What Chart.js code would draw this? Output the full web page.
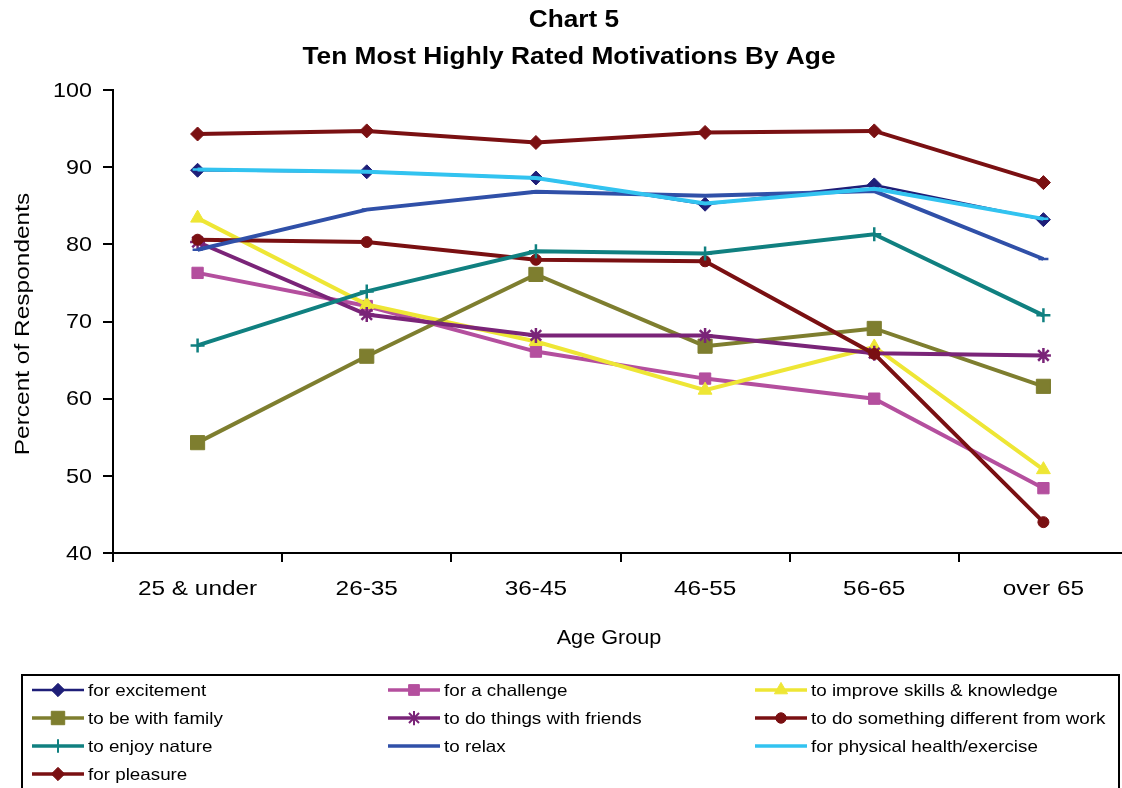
<!DOCTYPE html>
<html>
<head>
<meta charset="utf-8">
<script src="https://cdn.jsdelivr.net/npm/chart.js@4.4.0/dist/chart.umd.min.js"></script>
<style>
  html, body { margin: 0; padding: 0; background: #fff; overflow: hidden; }
  #wrap { position: relative; width: 1139px; height: 788px; }
</style>
</head>
<body>
<div id="wrap"><canvas id="c" width="1139" height="788"></canvas></div>
<script>
// Age groups and y-axis ticks
const ageGroups = ['25 & under', '26-35', '36-45', '46-55', '56-65', 'over 65'];
const yTicks = [40, 50, 60, 70, 80, 90, 100];

// Percent of respondents rating each motivation highly, per age group
const forExcitement      = [89.6, 89.4, 88.6, 85.2, 87.7, 83.2];
const forAChallenge      = [76.3, 72.0, 66.1, 62.6, 60.0, 48.4];
const toImproveSkills    = [83.4, 72.2, 67.4, 61.1, 66.7, 50.8];
const toBeWithFamily     = [54.3, 65.5, 76.1, 66.8, 69.1, 61.6];
const toDoWithFriends    = [80.3, 70.9, 68.2, 68.2, 65.9, 65.6];
const somethingDifferent = [80.6, 80.3, 78.0, 77.8, 65.8, 44.0];
const toEnjoyNature      = [66.9, 73.9, 79.1, 78.8, 81.3, 70.8];
const toRelax            = [79.3, 84.5, 86.8, 86.3, 86.9, 78.1];
const physicalHealth     = [89.7, 89.4, 88.6, 85.3, 87.2, 83.3];
const forPleasure        = [94.3, 94.7, 93.2, 94.5, 94.7, 88.0];

const FONT = '"Liberation Sans", Arial, sans-serif';

const seriesDefs = [
  { label: 'for excitement', data: forExcitement, color: '#1E1E78', style: 'rectRot', r: 7, w: 2.5 },
  { label: 'for a challenge', data: forAChallenge, color: '#B44F9E', style: 'rect', r: 8, w: 4 },
  { label: 'to improve skills & knowledge', data: toImproveSkills, color: '#EEE635', style: 'triangle', r: 8, w: 4 },
  { label: 'to be with family', data: toBeWithFamily, color: '#7E7E2F', style: 'rect', r: 10, w: 4 },
  { label: 'to do things with friends', data: toDoWithFriends, color: '#7A2478', style: 'star', r: 7.5, w: 4 },
  { label: 'to do something different from work', data: somethingDifferent, color: '#7A1012', style: 'circle', r: 5.5, w: 4 },
  { label: 'to enjoy nature', data: toEnjoyNature, color: '#108080', style: 'cross', r: 7, w: 4 },
  { label: 'to relax', data: toRelax, color: '#3050A8', style: 'line', r: 5, w: 4 },
  { label: 'for physical health/exercise', data: physicalHealth, color: '#32C3F0', style: 'line', r: 5, w: 4 },
  { label: 'for pleasure', data: forPleasure, color: '#7A1012', style: 'rectRot', r: 7, w: 4 }
];

const strokedStyles = ['star', 'cross', 'line'];

const datasets = seriesDefs.map((s, i) => ({
  label: s.label,
  data: s.data,
  borderColor: s.color,
  backgroundColor: s.color,
  borderWidth: s.w,
  pointStyle: s.style,
  pointRadius: s.r,
  pointHoverRadius: s.r,
  pointBorderWidth: strokedStyles.includes(s.style) ? 2.5 : 1,
  pointBackgroundColor: s.color,
  pointBorderColor: s.color,
  tension: 0,
  fill: false,
  order: seriesDefs.length - i   // later series are painted on top
}));

function drawMarker(ctx, style, r, x, y, bw) {
  if (Chart.helpers && Chart.helpers.drawPoint) {
    Chart.helpers.drawPoint(ctx, { pointStyle: style, radius: r, rotation: 0, borderWidth: bw }, x, y);
    return;
  }
  ctx.beginPath();
  ctx.arc(x, y, r, 0, Math.PI * 2);
  ctx.fill();
}

// text widened along its own baseline
function wideText(ctx, txt, x, y, sx, align, angle) {
  ctx.save();
  ctx.translate(x, y);
  if (angle) ctx.rotate(angle);
  ctx.scale(sx, 1);
  ctx.textAlign = align;
  ctx.fillText(txt, 0, 0);
  ctx.restore();
}

// Titles, tick labels, axis titles and the boxed legend
const decorations = {
  id: 'decorations',
  afterDraw(chart) {
    const ctx = chart.ctx;
    ctx.save();
    ctx.fillStyle = '#000';
    ctx.textBaseline = 'middle';

    ctx.font = 'bold 23px ' + FONT;
    wideText(ctx, 'Chart 5', 574, 21, 1.14, 'center');
    wideText(ctx, 'Ten Most Highly Rated Motivations By Age', 569, 58, 1.144, 'center');

    // category labels
    const xs = chart.scales.x;
    ctx.font = '21px ' + FONT;
    ageGroups.forEach((lab, i) => {
      wideText(ctx, lab, xs.getPixelForTick(i), 589, 1.16, 'center');
    });
    // value labels
    const ys = chart.scales.y;
    yTicks.forEach(v => {
      wideText(ctx, String(v), 92, ys.getPixelForValue(v) + 1, 1.11, 'right');
    });

    wideText(ctx, 'Age Group', 609, 638, 1.03, 'center');
    wideText(ctx, 'Percent of Respondents', 23, 324, 1.165, 'center', -Math.PI / 2);

    // legend box
    ctx.lineWidth = 2;
    ctx.strokeStyle = '#000';
    ctx.strokeRect(22, 675, 1097, 200);

    const colX = [32, 388, 755];
    ctx.font = '16.5px ' + FONT;
    seriesDefs.forEach((s, i) => {
      const row = Math.floor(i / 3), col = i % 3;
      const x0 = colX[col], y = 690 + row * 28;
      ctx.strokeStyle = s.color;
      ctx.fillStyle = s.color;
      ctx.lineWidth = Math.min(s.w, 3.5);
      ctx.beginPath();
      ctx.moveTo(x0, y);
      ctx.lineTo(x0 + 52, y);
      ctx.stroke();
      ctx.lineWidth = strokedStyles.includes(s.style) ? 2 : 1;
      drawMarker(ctx, s.style, s.r * 0.95, x0 + 26, y, ctx.lineWidth);
      ctx.fillStyle = '#000';
      wideText(ctx, s.label, x0 + 56, y + 1, 1.14, 'left');
    });
    ctx.restore();
  }
};

new Chart(document.getElementById('c'), {
  type: 'line',
  data: { labels: ageGroups, datasets },
  plugins: [decorations],
  options: {
    responsive: false,
    animation: false,
    events: [],
    layout: { padding: { top: 90, right: 2, bottom: 125, left: 0 } },
    plugins: {
      legend: { display: false },
      title: { display: false },
      tooltip: { enabled: false }
    },
    scales: {
      x: {
        type: 'category',
        offset: true,
        grid: { display: true, drawOnChartArea: false, drawTicks: true, tickLength: 9, color: '#000', lineWidth: 2, offset: true },
        border: { display: true, color: '#000', width: 2 },
        ticks: { color: 'rgba(0,0,0,0)', font: { size: 21, family: FONT }, padding: 12, maxRotation: 0, autoSkip: false },
        afterFit(s) { s.height = 110; }
      },
      y: {
        min: yTicks[0],
        max: yTicks[yTicks.length - 1],
        afterBuildTicks(s) { s.ticks = yTicks.map(v => ({ value: v })); },
        grid: { display: true, drawOnChartArea: false, drawTicks: true, tickLength: 10, color: '#000', lineWidth: 2 },
        border: { display: true, color: '#000', width: 2 },
        ticks: { color: 'rgba(0,0,0,0)', font: { size: 21, family: FONT }, padding: 9 },
        afterFit(s) { s.width = 113; }
      }
    }
  }
});
</script>
</body>
</html>
